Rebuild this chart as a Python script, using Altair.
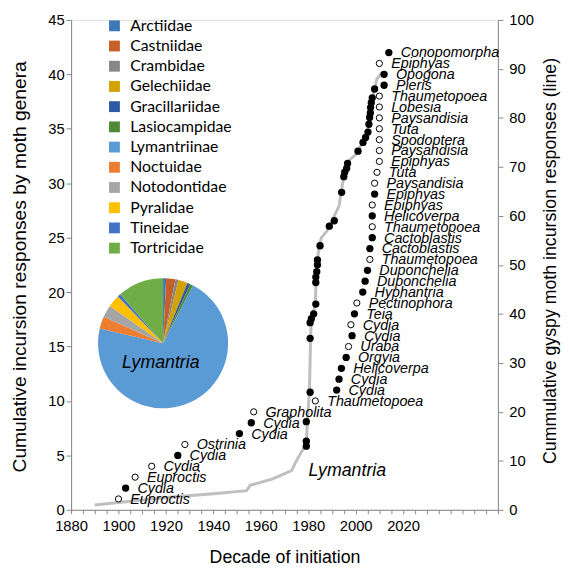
import altair as alt
import pandas as pd

# ---- moth genera incursion responses (left axis) ----
genus_names = ["Euproctis", "Cydia", "Euproctis", "Cydia", "Cydia", "Ostrinia", "Cydia", "Cydia",
               "Grapholita", "Thaumetopoea", "Cydia", "Cydia", "Helicoverpa", "Orgyia", "Uraba",
               "Cydia", "Cydia", "Teia", "Pectinophora", "Hyphantria", "Duponchelia", "Duponchelia",
               "Thaumetopoea", "Cactoblastis", "Cactoblastis", "Thaumetopoea", "Helicoverpa",
               "Epiphyas", "Epiphyas", "Paysandisia", "Tuta", "Epiphyas", "Paysandisia", "Spodoptera",
               "Tuta", "Paysandisia", "Lobesia", "Thaumetopoea", "Pieris", "Opogona", "Epiphyas",
               "Conopomorpha"]
genus_years = [1900, 1903, 1907, 1914, 1925, 1928, 1951, 1956, 1957, 1983, 1992, 1993, 1994, 1996,
               1997, 1998.5, 1998, 1999.5, 2000.5, 2003, 2004, 2005, 2006, 2006, 2007, 2007, 2007,
               2007, 2008, 2008, 2009, 2010, 2010, 2010, 2010, 2010, 2010, 2010, 2012, 2012, 2010,
               2014]
genus_cum = [1, 2, 3, 4, 5, 6, 7, 8, 9, 10, 11, 12, 13, 14, 15, 16, 17, 18, 19, 20, 21, 22, 23,
             24, 25, 26, 27, 28, 29, 30, 31, 32, 33, 34, 35, 36, 37, 38, 39, 40, 41, 42]
genus_filled = [0, 1, 0, 0, 1, 0, 1, 1, 0, 0, 1, 1, 1, 1, 0, 1, 0, 1, 0, 1, 1, 1, 0, 1, 1, 0, 1,
                0, 1, 0, 0, 0, 0, 0, 0, 0, 0, 0, 1, 1, 0, 1]

# ---- gypsy moth cumulative responses (right axis, line) ----
line_years = [1890, 1900, 1920, 1940, 1954, 1955.5, 1965, 1973, 1975, 1978, 1979, 1979.3, 1979.6,
              1980.5, 1981, 1981.3, 1982, 1983, 1983.3, 1983.7, 1984.5, 1985.5, 1988, 1990, 1993,
              1994, 1995, 1996.5, 2000, 2003, 2005, 2006, 2007, 2008, 2009, 2011, 2013]
line_values = [1, 1.5, 2.5, 3.3, 3.9, 5, 6.3, 8, 10, 12.5, 13, 14, 18, 24, 35, 39, 40, 42, 47, 50,
               53.5, 55.5, 57, 59, 62, 65, 68, 71, 72.5, 75, 77, 80, 84, 86, 88, 89.2, 89]

lym_years = [1979.2, 1979.2, 1979.2, 1980.8, 1980.8, 1980.8, 1981.3, 1982.3, 1983.2, 1983.2,
             1983.2, 1983.6, 1983.9, 1983.9, 1985, 1988.9, 1991, 1994.1, 1995, 1995.4, 1996.2,
             1996.6, 2001, 2003.1, 2004.2, 2005.2, 2005.6, 2005.9, 2006.2, 2006.3, 2006.6, 2007,
             2008]
lym_values = [13, 14, 18, 24, 35, 38.2, 39, 40, 42, 46.4, 47.5, 48.6, 50, 51, 53.9, 57.9, 59, 64.8,
              68, 68.9, 69.7, 70.7, 73.2, 75, 76, 77.1, 78.7, 80.1, 81, 82.1, 83.1, 84.1, 85.9]

# ---- pie of responses by family ----
families = ["Arctiidae", "Castniidae", "Crambidae", "Gelechiidae", "Gracillariidae", "Lasiocampidae",
            "Lymantriinae", "Noctuidae", "Notodontidae", "Pyralidae", "Tineidae", "Tortricidae"]
family_counts = [1, 3, 1, 3, 1, 1, 93, 4, 4, 4, 1, 15]
family_colors = ["#3F78B8", "#C65F28", "#878787", "#D3A100", "#2F59A3", "#4E8A36",
                 "#5B9BD5", "#ED7D31", "#A5A5A5", "#FFC000", "#4472C4", "#70AD47"]

genus_df = pd.DataFrame({"year": genus_years, "cum": genus_cum, "name": genus_names,
                         "filled": genus_filled})
line_df = pd.DataFrame({"year": line_years, "val": line_values, "idx": list(range(len(line_years)))})
lym_df = pd.DataFrame({"year": lym_years, "val": lym_values})
pie_df = pd.DataFrame({"family": families, "count": family_counts,
                       "ord": list(range(len(families)))})

FONT = "Liberation Sans"
AX = "#868686"

x_enc = alt.X("year:Q",
              scale=alt.Scale(domain=[1880, 2060], nice=False, zero=False),
              axis=alt.Axis(values=list(range(1880, 2061, 5)), format="d",
                            labelExpr="(datum.value % 20 == 0 && datum.value <= 2020) ? datum.label : ''",
                            labelFlush=False, labelOverlap=False, tickSize=4, labelPadding=5,
                            labelFontSize=15, labelFont=FONT, labelColor="black",
                            domainColor=AX, tickColor=AX, grid=False,
                            title="Decade of initiation", titleFontSize=18, titleFont=FONT,
                            titleFontWeight="normal", titleColor="black",
                            titleX=216.5, titleY=53, titleBaseline="alphabetic", titleAlign="center"))

y_left = alt.Y("cum:Q",
               scale=alt.Scale(domain=[0, 45], nice=False),
               axis=alt.Axis(orient="left", values=list(range(0, 46, 5)), format="d",
                             labelFlush=False, tickSize=5, labelPadding=2,
                             labelFontSize=15, labelFont=FONT, labelColor="black",
                             domainColor=AX, tickColor=AX, grid=False,
                             title="Cumulative incursion responses by moth genera",
                             titleFontSize=19.5, titleFont=FONT, titleFontWeight="normal",
                             titleColor="black", titleX=-52, titleY=250, titleAngle=270,
                             titleAlign="center", titleBaseline="middle"))

y_right = alt.Y("val:Q",
                scale=alt.Scale(domain=[0, 100], nice=False),
                axis=alt.Axis(orient="right", values=list(range(0, 101, 10)), format="d",
                              labelFlush=False, tickSize=5, labelPadding=6,
                              labelFontSize=15, labelFont=FONT, labelColor="black",
                              domainColor=AX, tickColor=AX, grid=False,
                              title="Cummulative gyspy moth incursion responses (line)",
                              titleFontSize=18, titleFont=FONT, titleFontWeight="normal",
                              titleColor="black", titleX=53, titleY=244, titleAngle=270,
                              titleAlign="center", titleBaseline="middle"))

# right-axis layers
line = alt.Chart(line_df).mark_line(color="#BFBFBF", strokeWidth=3).encode(
    x=x_enc, y=y_right, order="idx:Q")
lym_dots = alt.Chart(lym_df).mark_circle(size=55, color="black", opacity=1).encode(
    x=x_enc, y=y_right)
lym_text = alt.Chart(pd.DataFrame({"year": [1996.5], "val": [8], "t": ["Lymantria"]})).mark_text(
    font=FONT, fontSize=18, fontStyle="italic", color="black", align="center", baseline="middle"
).encode(x=x_enc, y=y_right, text="t:N")
right_layer = alt.layer(line, lym_dots, lym_text)

# left-axis layers
open_pts = alt.Chart(genus_df).transform_filter("datum.filled == 0").mark_point(
    shape="circle", filled=True, fill="white", stroke="black", strokeWidth=1, size=40, opacity=1
).encode(x=x_enc, y=y_left)
fill_pts = alt.Chart(genus_df).transform_filter("datum.filled == 1").mark_circle(
    size=55, color="black", opacity=1).encode(x=x_enc, y=y_left)
labels = alt.Chart(genus_df).mark_text(
    align="left", baseline="middle", dx=12, dy=1, font=FONT, fontSize=14.5, fontStyle="italic",
    color="black").encode(x=x_enc, y=y_left, text="name:N")
left_layer = alt.layer(open_pts, fill_pts, labels)

# pie inset
pie = alt.Chart(pie_df).mark_arc(radius=66).encode(
    theta=alt.Theta("count:Q", stack=True),
    order=alt.Order("ord:Q"),
    color=alt.Color("family:N", sort=families,
                    scale=alt.Scale(domain=families, range=family_colors),
                    legend=alt.Legend(orient="none", legendX=36, legendY=-2, title=None,
                                      symbolType="square", symbolSize=121, symbolStrokeWidth=0,
                                      symbolOpacity=1, labelFont="Lato", labelFontSize=16,
                                      labelColor="black", rowPadding=4.5, labelOffset=8,
                                      padding=0)),
    x=alt.value(93.3), y=alt.value(328))
pie_text = alt.Chart(pd.DataFrame({"t": ["Lymantria"]})).mark_text(
    font=FONT, fontSize=18, fontStyle="italic", color="black", align="center",
    baseline="middle").encode(text="t:N", x=alt.value(91), y=alt.value(348))

chart = alt.layer(right_layer, left_layer, pie, pie_text).resolve_scale(
    y="independent"
).properties(
    width=433, height=497,
    padding={"left": 64, "top": 8, "right": 64, "bottom": 59},
    autosize=alt.AutoSizeParams(type="none"),
).configure_view(stroke=None).configure(background="white")

chart.save("out.html", embed_options={"renderer": "svg", "actions": False})
